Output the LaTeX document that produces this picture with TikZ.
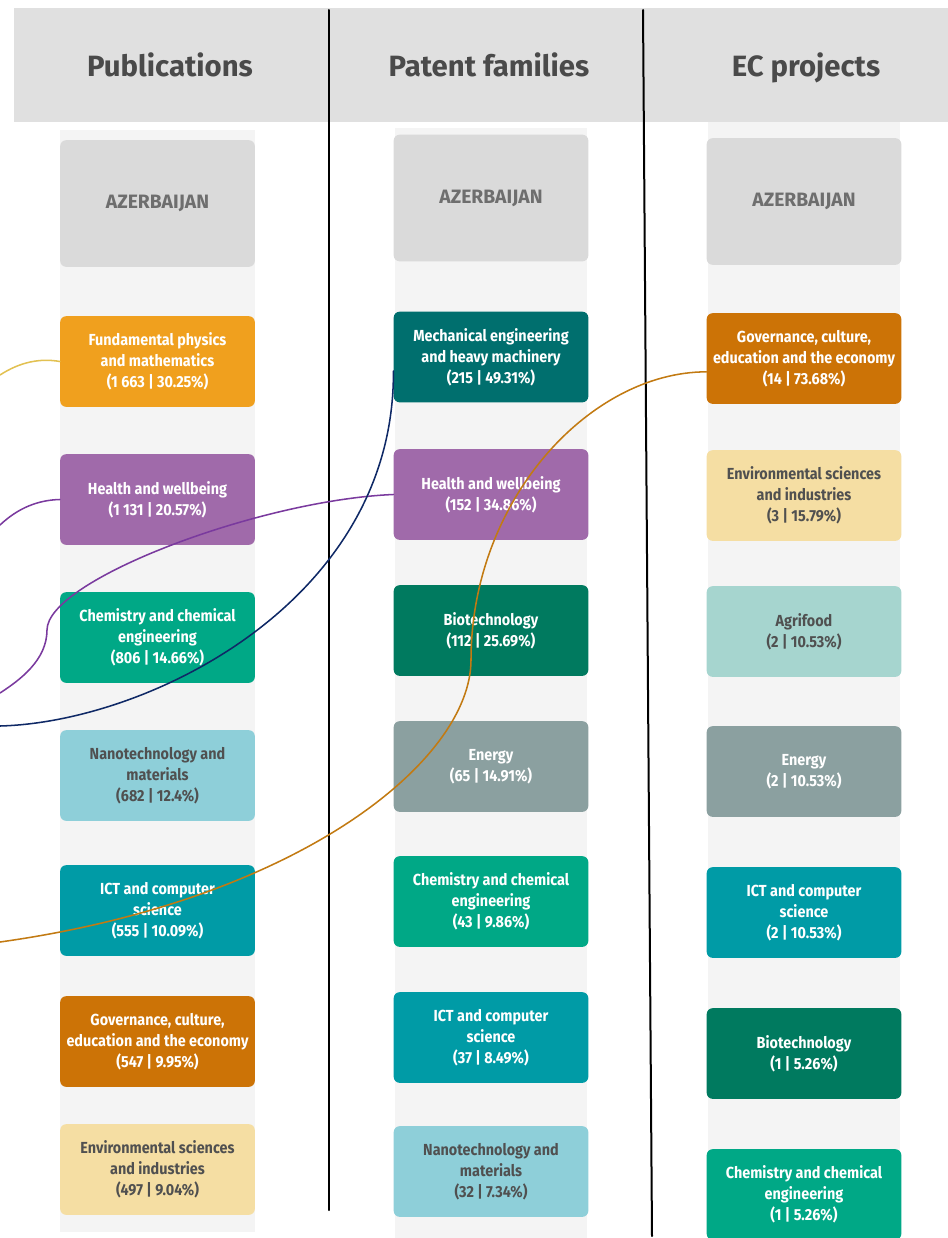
\documentclass[tikz,border=0pt]{standalone}
\usepackage{fontspec}
\setmainfont{Fira Sans}
\newfontfamily\boxfont{Fira Sans}[FakeStretch=0.9]
\definecolor{headgray}{HTML}{E0E0E0}
\definecolor{stripgray}{HTML}{F4F4F4}
\definecolor{landgray}{HTML}{DADADA}
\definecolor{landtext}{HTML}{6E6E6E}
\definecolor{titletext}{HTML}{4A4A4A}
\definecolor{darktext}{HTML}{505050}
\definecolor{physorange}{HTML}{F0A01E}
\definecolor{healthpurple}{HTML}{A06AAA}
\definecolor{chemgreen}{HTML}{00A886}
\definecolor{nanoblue}{HTML}{8ECFD9}
\definecolor{ictteal}{HTML}{009BA6}
\definecolor{govorange}{HTML}{CC7306}
\definecolor{envyellow}{HTML}{F5DEA3}
\definecolor{mechteal}{HTML}{006F6E}
\definecolor{biogreen}{HTML}{007A5F}
\definecolor{energygray}{HTML}{8BA0A0}
\definecolor{agrimint}{HTML}{A6D5CF}
\definecolor{linkyellow}{HTML}{E2C152}
\definecolor{linkpurple}{HTML}{7A3A9E}
\definecolor{linknavy}{HTML}{0F2966}
\definecolor{linkbrown}{HTML}{C27A12}
\begin{document}
\begin{tikzpicture}[x=0.75pt, y=-0.75pt, line join=round, line cap=round,
	font=\boxfont\bfseries\fontsize{12}{15.75}\selectfont,
	box/.style={rounded corners=4.5pt, minimum width=146pt, minimum height=68pt, inner sep=0pt, align=center, text=white},
	dark/.style={text=darktext},
	land/.style={box, fill=landgray, minimum height=95pt, text=landtext, font=\bfseries\fontsize{14.5}{16}\selectfont},
	head/.style={anchor=base, text=titletext, font=\bfseries\fontsize{22}{24}\selectfont},
	link/.style={line width=1.15pt}]
	\def \ca{157.5}
	\def \cb{491}
	\def \cc{804}
	\useasboundingbox (0,0) rectangle (948,1238);
	\clip (0,0) rectangle (948,1238);
	\fill[headgray] (14,8) rectangle (948,122);
	\fill[stripgray] (60,130) rectangle (255,1232);
	\fill[stripgray] (395,128) rectangle (587,1238);
	\fill[stripgray] (708,122) rectangle (900,1238);
	\node[head] (tpub) at (170,76) {Publications};
	\node[head] (tpat) at (489,76) {Patent families};
	\node[head] (tec) at (806,76) {EC projects};
	\draw[line width=1.5pt] (329,10)--(329,1210);
	\draw[line width=1.5pt] (643,10)--(652,1236);
	\node[land] (cpub) at (\ca,203.5) {AZERBAIJAN};
	\node[land] (cpat) at (\cb,198) {AZERBAIJAN};
	\node[land] (cec) at (\cc,201.5) {AZERBAIJAN};
	\node[box, fill=physorange] (pub1) at (\ca,361.5) {Fundamental physics\\and mathematics\\(1 663 | 30.25\%)};
	\node[box, fill=healthpurple] (pub2) at (\ca,499.5) {Health and wellbeing\\(1 131 | 20.57\%)};
	\node[box, fill=chemgreen] (pub3) at (\ca,637.5) {Chemistry and chemical\\engineering\\(806 | 14.66\%)};
	\node[box, dark, fill=nanoblue] (pub4) at (\ca,775.5) {Nanotechnology and\\materials\\(682 | 12.4\%)};
	\node[box, fill=ictteal] (pub5) at (\ca,910.5) {ICT and computer\\science\\(555 | 10.09\%)};
	\node[box, fill=govorange] (pub6) at (\ca,1041.5) {Governance, culture,\\education and the economy\\(547 | 9.95\%)};
	\node[box, dark, fill=envyellow] (pub7) at (\ca,1169.5) {Environmental sciences\\and industries\\(497 | 9.04\%)};
	\node[box, fill=mechteal] (pat1) at (\cb,357) {Mechanical engineering\\and heavy machinery\\(215 | 49.31\%)};
	\node[box, fill=healthpurple] (pat2) at (\cb,494.5) {Health and wellbeing\\(152 | 34.86\%)};
	\node[box, fill=biogreen] (pat3) at (\cb,630.5) {Biotechnology\\(112 | 25.69\%)};
	\node[box, fill=energygray] (pat4) at (\cb,766.5) {Energy\\(65 | 14.91\%)};
	\node[box, fill=chemgreen] (pat5) at (\cb,901.5) {Chemistry and chemical\\engineering\\(43 | 9.86\%)};
	\node[box, fill=ictteal] (pat6) at (\cb,1037.5) {ICT and computer\\science\\(37 | 8.49\%)};
	\node[box, dark, fill=nanoblue] (pat7) at (\cb,1171.5) {Nanotechnology and\\materials\\(32 | 7.34\%)};
	\node[box, fill=govorange] (ec1) at (\cc,358.5) {Governance, culture,\\education and the economy\\(14 | 73.68\%)};
	\node[box, dark, fill=envyellow] (ec2) at (\cc,495.5) {Environmental sciences\\and industries\\(3 | 15.79\%)};
	\node[box, dark, fill=agrimint] (ec3) at (\cc,631.5) {Agrifood\\(2 | 10.53\%)};
	\node[box, fill=energygray] (ec4) at (\cc,771.5) {Energy\\(2 | 10.53\%)};
	\node[box, fill=ictteal] (ec5) at (\cc,912.5) {ICT and computer\\science\\(2 | 10.53\%)};
	\node[box, fill=biogreen] (ec6) at (\cc,1053.5) {Biotechnology\\(1 | 5.26\%)};
	\node[box, fill=chemgreen] (ec7) at (\cc,1194.5) {Chemistry and chemical\\engineering\\(1 | 5.26\%)};
	\coordinate (offphys) at (0,375);
	\coordinate (offhealth) at (0,525);
	\coordinate (offhealthb) at (0,693);
	\coordinate (offmech) at (0,726);
	\coordinate (offgov) at (0,942);
	\draw[link, linkyellow] (offphys) .. controls (20,362) and (40,358) .. (pub1.west);
	\draw[link, linkpurple] (offhealth) .. controls (18,508) and (38,500) .. (pub2.west);
	\draw[link, linkpurple] (pat2.west) .. controls (260,500) and (47,580) .. (47,630) .. controls (47,660) and (20,680) .. (offhealthb);
	\draw[link, linknavy] ([yshift=-10.5pt]pat1.west) .. controls (395,600) and (150,722) .. (offmech);
	\draw[link, linkbrown] ([yshift=-10pt]ec1.west) .. controls (590,372) and (471,500) .. (471,660) .. controls (471,760) and (300,900) .. (offgov);
\end{tikzpicture}
\end{document}
